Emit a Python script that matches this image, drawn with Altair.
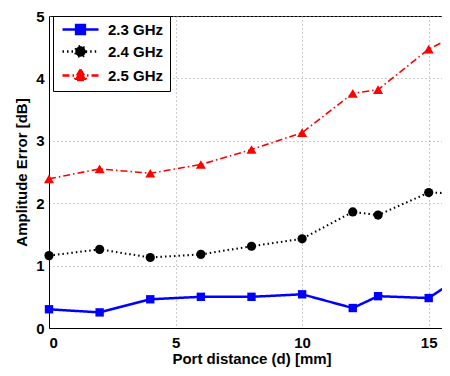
import altair as alt
import pandas as pd

x_vals = [0, 2, 4, 6, 8, 10, 12, 13, 15, 16]
s23 = [0.30, 0.25, 0.46, 0.50, 0.50, 0.54, 0.32, 0.51, 0.48, 0.75]
s24 = [1.16, 1.26, 1.13, 1.18, 1.31, 1.43, 1.86, 1.81, 2.17, 2.16]
s25 = [2.39, 2.55, 2.48, 2.62, 2.86, 3.13, 3.76, 3.82, 4.47, 4.67]
series = ["2.3 GHz", "2.4 GHz", "2.5 GHz"]
colors = ["#0000ff", "#000000", "#ff0000"]
dashes = [[1, 0], [1.5, 3], [7, 3, 1.5, 3]]
line_widths = [2.5, 1.6, 2.5]
shapes = ["square", "circle", "triangle-up"]
sizes = [70, 100, 150]
legend_shapes = [
    "M-4.5,0H4.5M-1.1,-1.1H1.1V1.1H-1.1Z",
    "M-4.5,0H-1.3M1.3,0H4.5M1.3,0A1.3,1.3,0,1,1,-1.3,0A1.3,1.3,0,1,1,1.3,0Z",
    "M-4.5,0H4.5M0,-1.5L1.5,1.1H-1.5Z",
]

rows = []
for name, vals in zip(series, [s23, s24, s25]):
    for xv, yv in zip(x_vals, vals):
        rows.append({"d": xv, "err": yv, "series": name})
df = pd.DataFrame(rows)

FONT = "Liberation Sans"
FS = 15

xscale = alt.Scale(domain=[0, 16], nice=False)
yscale = alt.Scale(domain=[0, 5], nice=False)
xaxis = alt.Axis(values=[0, 5, 10, 15], title="Port distance (d) [mm]", labelPadding=7, titlePadding=1)
yaxis = alt.Axis(values=[0, 1, 2, 3, 4, 5], title="Amplitude Error [dB]", labelPadding=5, titlePadding=6)


def cscale():
    return alt.Scale(domain=series, range=colors)


base = alt.Chart(df).encode(
    x=alt.X("d:Q", scale=xscale, axis=xaxis),
    y=alt.Y("err:Q", scale=yscale, axis=yaxis),
)

lines = base.mark_line(clip=False).encode(
    stroke=alt.Stroke("series:N", scale=cscale(), legend=None),
    strokeDash=alt.StrokeDash("series:N", scale=alt.Scale(domain=series, range=dashes), legend=None),
    strokeWidth=alt.StrokeWidth("series:N", scale=alt.Scale(domain=series, range=line_widths), legend=None),
)

points = base.mark_point(filled=True, opacity=1).encode(
    fill=alt.Fill("series:N", scale=cscale(), legend=None),
    shape=alt.Shape("series:N", scale=alt.Scale(domain=series, range=shapes), legend=None),
    size=alt.Size("series:N", scale=alt.Scale(domain=series, range=sizes), legend=None),
)

leg = alt.Legend(
    title=None,
    orient="none",
    legendX=4,
    legendY=0,
    fillColor="white",
    strokeColor="black",
    padding=6,
    symbolSize=64,
    symbolOffset=14,
    labelOffset=20,
    rowPadding=2,
    symbolOpacity=1,
    labelFont=FONT,
    labelFontSize=FS,
    labelFontWeight="bold",
    labelColor="black",
)

legend_layer = base.transform_filter("datum.err < -100").mark_point(filled=True, opacity=1, strokeWidth=2.5).encode(
    fill=alt.Fill("series:N", scale=cscale(), legend=leg),
    stroke=alt.Stroke("series:N", scale=cscale(), legend=leg),
    shape=alt.Shape("series:N", scale=alt.Scale(domain=series, range=legend_shapes), legend=leg),
    strokeDash=alt.StrokeDash("series:N", scale=alt.Scale(domain=series, range=dashes), legend=leg),
)

chart = alt.layer(lines, points, legend_layer).resolve_scale(
    fill="independent", stroke="independent", shape="independent", strokeDash="independent"
).properties(
    width=405,
    height=312,
    autosize=alt.AutoSizeParams(type="none"),
    padding={"left": 41, "top": 8, "right": -12, "bottom": 39},
).configure_view(
    stroke="black", strokeWidth=1
).configure_axis(
    domainColor="black",
    domainWidth=1,
    ticks=False,
    grid=True,
    gridColor="#999999",
    gridDash=[1, 3],
    gridWidth=1,
    gridOpacity=1,
    labelFont=FONT,
    labelFontSize=FS,
    labelFontWeight="bold",
    labelColor="black",
    titleFont=FONT,
    titleFontSize=FS,
    titleFontWeight="bold",
    titleColor="black",
).configure_legend(
    symbolStrokeWidth=2.5,
)

chart.save("out.html", embed_options={"renderer": "svg", "actions": False})
